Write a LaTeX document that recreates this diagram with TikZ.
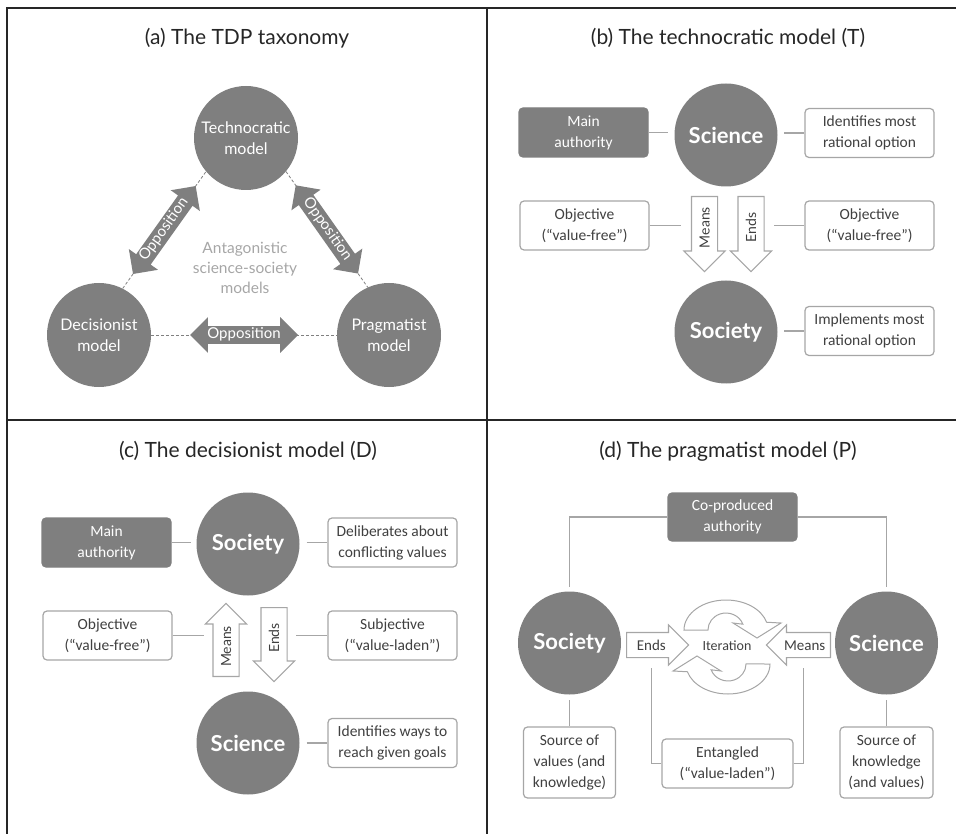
\documentclass[tikz,border=0pt]{standalone}
\usepackage{fontspec}
\setmainfont{Carlito}
\newfontfamily\latofont{Lato}
\usetikzlibrary{shapes.arrows,positioning}

\definecolor{circgray}{HTML}{7F7F7F}
\definecolor{linegray}{HTML}{A6A6A6}
\definecolor{txtgray}{HTML}{404040}
\definecolor{softgray}{HTML}{A6A6A6}

\tikzset{
  model/.style={circle,fill=circgray,text=white,minimum size=103pt,inner sep=0pt,align=center,
    font=\latofont\fontsize{22}{26}\selectfont\bfseries},
  smallmodel/.style={model,minimum size=104pt,font=\latofont\fontsize{16}{21}\selectfont},
  infobox/.style={draw=linegray,line width=1.2pt,rounded corners=4pt,fill=white,text=txtgray,
    minimum width=129pt,minimum height=49pt,inner sep=2pt,align=center,
    font=\fontsize{15.5}{21}\selectfont},
  authbox/.style={infobox,fill=circgray,draw=circgray,text=white},
  link/.style={draw=linegray,line width=1.2pt},
  dashlink/.style={draw=gray,line width=0.8pt,densely dashed},
  panel/.style={draw=black!85,line width=2pt},
  title/.style={anchor=base,text=black!85,font=\latofont\fontsize{21}{25}\selectfont},
  flowarrow/.style={single arrow,draw=linegray,line width=1.1pt,fill=white,text=txtgray,
    single arrow head extend=7.5pt,single arrow tip angle=90,inner xsep=2pt,inner ysep=7.5pt,
    text height=10pt,text depth=0pt,font=\latofont\fontsize{14}{17}\selectfont},
  oppos/.style={double arrow,fill=circgray,text=white,double arrow head extend=9pt,
    double arrow tip angle=90,minimum height=108pt,inner xsep=1pt,inner ysep=2pt,
    text height=10pt,text depth=3pt,font=\latofont\fontsize{15}{18}\selectfont}
}

\begin{document}
\begin{tikzpicture}[x=1pt,y=-1pt]
\useasboundingbox (0,0) rectangle (956,834);
%panels
\draw[panel] (7,834) -- (7,8) -- (956,8);
\draw[panel] (487,8) -- (487,834);
\draw[panel] (7,420) -- (956,420);

%(a) taxonomy
\node[title] (ttla) at (247,45) {(a) The TDP taxonomy};
\node[smallmodel] (tech) at (246,138) {Technocratic\\model};
\node[smallmodel] (dec) at (99,335) {Decisionist\\model};
\node[smallmodel] (prag) at (389,335) {Pragmatist\\model};
\node[text=softgray,align=center,font=\latofont\fontsize{15.5}{20}\selectfont] (antag) at (245,268)
  {Antagonistic\\science-society\\models};
\draw[dashlink] (dec.63) -- (tech.220) node[oppos,midway,sloped] (oppdt) {Opposition};
\draw[dashlink] (tech.-40) -- (prag.114) node[oppos,midway,sloped] (opptp) {Opposition};
\draw[dashlink] (dec.east) -- (prag.west) node[oppos,midway,sloped] (oppdp) {Opposition};

%(b) technocratic
\node[title] (ttlb) at (728,45) {(b) The technocratic model (T)};
\node[model] (scib) at (726,135) {Science};
\node[model] (socb) at (726,332) {Society};
\node[authbox] (authb) at (583.5,132.5) {Main\\authority};
\node[infobox] (identb) at (869.5,133) {Identifies most\\rational option};
\node[infobox] (objlb) at (584.5,225.5) {Objective\\(“value-free”)};
\node[infobox] (objrb) at (869.5,225.5) {Objective\\(“value-free”)};
\node[infobox] (implb) at (869.5,331) {Implements most\\rational option};
\node[flowarrow,rotate=90,shape border rotate=180,minimum height=75pt,anchor=tail] (meansb) at (704.5,196) {Means};
\node[flowarrow,rotate=90,shape border rotate=180,minimum height=75pt,anchor=tail] (endsb) at (751,196) {Ends};
\draw[link,shorten >=6.5pt] (authb.east) -- (authb.east -| scib.west);
\draw[link,shorten <=6.5pt] (scib.east |- identb.west) -- (identb.west);
\draw[link] (objlb.east) -- ++(31,0);
\draw[link] (objrb.west) -- ++(-30,0);
\draw[link,shorten <=6.5pt] (socb.east |- implb.west) -- (implb.west);

%(c) decisionist
\node[title] (ttlc) at (248,457) {(c) The decisionist model (D)};
\node[model] (socc) at (248,544) {Society};
\node[model] (scic) at (248,743) {Science};
\node[authbox] (authc) at (106.5,542.5) {Main\\authority};
\node[infobox] (delibc) at (392.5,542.5) {Deliberates about\\conflicting values};
\node[infobox] (objc) at (107.5,635.5) {Objective\\(“value-free”)};
\node[infobox] (subjc) at (392.5,635.5) {Subjective\\(“value-laden”)};
\node[infobox] (identc) at (392.5,743) {Identifies ways to\\reach given goals};
\node[flowarrow,rotate=90,minimum height=73pt,anchor=tail] (meansc) at (226,677) {Means};
\node[flowarrow,rotate=90,shape border rotate=180,minimum height=74pt,anchor=tail] (endsc) at (274,607) {Ends};
\draw[link,shorten >=5pt] (authc.east) -- (authc.east -| socc.west);
\draw[link,shorten <=7pt] (socc.east |- delibc.west) -- (delibc.west);
\draw[link] (objc.east) -- ++(31,0);
\draw[link] (subjc.west) -- ++(-31,0);
\draw[link,shorten <=7pt] (scic.east |- identc.west) -- (identc.west);

%(d) pragmatist
\node[title] (ttld) at (728,457) {(d) The pragmatist model (P)};
\node[authbox,minimum height=48pt] (authd) at (732.5,517) {Co-produced\\authority};
\node[model] (socd) at (569.5,643) {Society};
\node[model] (scid) at (886.5,643) {Science};
\node[infobox,minimum width=92pt,minimum height=71pt] (srcvd) at (569.5,762.5) {Source of\\values (and\\knowledge)};
\node[infobox,minimum width=93pt,minimum height=71pt] (srckd) at (886.5,762.5) {Source of\\knowledge\\(and values)};
\node[infobox,minimum width=131pt] (entd) at (727.5,763.5) {Entangled\\(“value-laden”)};
\node[flowarrow,inner ysep=7pt,minimum height=62pt,anchor=tail,font=\fontsize{15}{18}\selectfont] (endsd) at (626,645) {Ends};
\node[flowarrow,inner ysep=7pt,shape border rotate=180,minimum height=64pt,anchor=tail,font=\fontsize{15}{18}\selectfont] (meansd) at (831,645) {Means};
\node[text=txtgray,font=\fontsize{14}{17}\selectfont] (iterd) at (727,646) {Iteration};
% cycle
\draw[link,line width=1pt,fill=white] (684,630) arc[start angle=180,end angle=345,x radius=42,y radius=30]
  -- (781,623) -- (757,638) -- (733,623) -- (742.9,624.2)
  arc[start angle=340,end angle=180,x radius=18,y radius=17] -- cycle;
\draw[link,line width=1pt,fill=white] (770,664) arc[start angle=0,end angle=165,x radius=42,y radius=30]
  -- (673,671) -- (697,656) -- (721,671) -- (711.1,669.8)
  arc[start angle=160,end angle=0,x radius=18,y radius=17] -- cycle;
\draw[link,shorten >=4pt] (authd.west) -| (socd.north);
\draw[link,shorten >=4pt] (authd.east) -| (scid.north);
\draw[link,shorten <=5.5pt] (socd.south) -- (srcvd.north);
\draw[link,shorten <=5.5pt] (scid.south) -- (srckd.north);
\draw[link] (entd.west) -| ++(-10,-95.5);
\draw[link] (entd.east) -| ++(10,-95.5);
\end{tikzpicture}
\end{document}
